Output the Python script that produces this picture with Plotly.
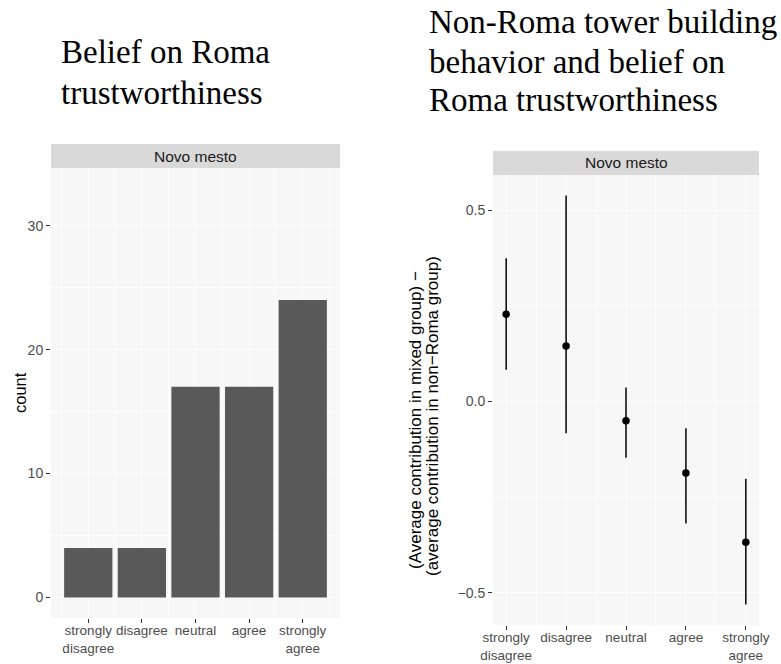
import plotly.graph_objects as go

# Likert response levels (shared by both panels)
levels = ["strongly<br>disagree", "disagree", "neutral", "agree", "strongly<br>agree"]
level_pos = [1, 2, 3, 4, 5]

# Left panel: number of respondents per belief level
counts = [4, 4, 17, 17, 24]

# Right panel: mean difference in contributions with 95% interval
diff_mean = [0.228, 0.145, -0.050, -0.187, -0.368]
ci_low = [0.083, -0.083, -0.147, -0.319, -0.531]
ci_high = [0.375, 0.539, 0.037, -0.070, -0.202]
ref_value = 0.0

facet_label = "Novo mesto"
left_title = ["Belief on Roma", "trustworthiness"]
right_title = ["Non-Roma tower building", "behavior and belief on", "Roma trustworthiness"]
left_ylabel = "count"
right_ylabel = ["(Average contribution in mixed group) \u2212",
                "(average contribution in non\u2212Roma group)"]

W, H = 781, 664
SANS = "Liberation Sans, Arial, Helvetica, sans-serif"
SERIF = "Liberation Serif, Times New Roman, serif"
PANEL_BG = "#F7F7F7"
STRIP_BG = "#D9D9D9"
TICK_COL = "#4D4D4D"


def px_x(v):
    return v / W


def px_y(v):
    return 1 - v / H


# panel boxes in pixels: (left, right, top, bottom), strip height
left_box = (51, 340, 168, 618)
right_box = (493, 759, 175, 625)
strip_h = 24

fig = go.Figure()

fig.add_trace(go.Bar(
    x=level_pos, y=counts, width=0.9,
    marker=dict(color="#595959", line=dict(width=0)),
    xaxis="x", yaxis="y", showlegend=False,
))

err_up = [h - m for h, m in zip(ci_high, diff_mean)]
err_dn = [m - l for m, l in zip(diff_mean, ci_low)]
fig.add_trace(go.Scatter(
    x=level_pos, y=diff_mean, mode="markers",
    marker=dict(color="black", size=7.5),
    error_y=dict(type="data", symmetric=False, array=err_up, arrayminus=err_dn,
                 width=0, thickness=1.5, color="black"),
    xaxis="x2", yaxis="y2", showlegend=False,
))

axis_common = dict(
    automargin=False,
    showline=False, zeroline=False, ticks="outside", ticklen=4, tickwidth=1,
    tickcolor="#333333",
    showgrid=True, gridcolor="white", gridwidth=1.2,
)
xtick_font = dict(family=SANS, size=13.5, color=TICK_COL)
ytick_font = dict(family=SANS, size=14, color=TICK_COL)

fig.update_layout(
    width=W, height=H,
    margin=dict(l=0, r=0, t=0, b=0),
    paper_bgcolor="white", plot_bgcolor=PANEL_BG,
    xaxis=dict(
        domain=[px_x(left_box[0]), px_x(left_box[1])], anchor="y",
        range=[0.305, 5.695], tickmode="array", tickvals=level_pos, ticktext=levels,
        tickangle=0, tickfont=xtick_font, ticklabelstandoff=-4,
        minor=dict(tickmode="array", tickvals=[0.5, 1.5, 2.5, 3.5, 4.5, 5.5],
                   showgrid=True, gridcolor="white", gridwidth=0.6, ticklen=0),
        **axis_common,
    ),
    yaxis=dict(
        domain=[px_y(left_box[3]), px_y(left_box[2])], anchor="x",
        range=[-1.65, 34.65], tickmode="array", tickvals=[0, 10, 20, 30],
        tickfont=ytick_font,
        minor=dict(tickmode="array", tickvals=[5, 15, 25],
                   showgrid=True, gridcolor="white", gridwidth=0.6, ticklen=0),
        **axis_common,
    ),
    xaxis2=dict(
        domain=[px_x(right_box[0]), px_x(right_box[1])], anchor="y2",
        range=[0.78, 5.22], tickmode="array", tickvals=level_pos, ticktext=levels,
        tickangle=0, tickfont=xtick_font, ticklabelstandoff=-4,
        minor=dict(tickmode="array", tickvals=[1.5, 2.5, 3.5, 4.5],
                   showgrid=True, gridcolor="white", gridwidth=0.6, ticklen=0),
        **axis_common,
    ),
    yaxis2=dict(
        domain=[px_y(right_box[3]), px_y(right_box[2])], anchor="x2",
        range=[-0.5845, 0.5925], tickmode="array", tickvals=[-0.5, 0, 0.5],
        ticktext=["\u22120.5", "0.0", "0.5"], tickfont=ytick_font,
        minor=dict(tickmode="array", tickvals=[-0.25, 0.25],
                   showgrid=True, gridcolor="white", gridwidth=0.6, ticklen=0),
        **axis_common,
    ),
)

# reference line at zero difference
fig.add_shape(type="line", xref="x2 domain", yref="y2", x0=0, x1=1,
              y0=ref_value, y1=ref_value, line=dict(color="#6E6E6E", width=1.1),
              layer="below")

# facet strips
for box in (left_box, right_box):
    fig.add_shape(type="rect", xref="paper", yref="paper",
                  x0=px_x(box[0]), x1=px_x(box[1]),
                  y0=px_y(box[2]), y1=px_y(box[2] - strip_h),
                  fillcolor=STRIP_BG, line=dict(width=0), layer="below")
    fig.add_annotation(xref="paper", yref="paper",
                       x=px_x((box[0] + box[1]) / 2), y=px_y(box[2] - strip_h / 2),
                       text=facet_label, showarrow=False,
                       font=dict(family=SANS, size=15.5, color="#1A1A1A"),
                       xanchor="center", yanchor="middle")

# y-axis labels
fig.add_annotation(xref="paper", yref="paper", x=px_x(20), y=px_y(393),
                   text=left_ylabel, textangle=-90, showarrow=False,
                   font=dict(family=SANS, size=16.5, color="black"),
                   xanchor="center", yanchor="middle")
for line, cx, cy in zip(right_ylabel, (415, 432), (420, 416)):
    fig.add_annotation(xref="paper", yref="paper", x=px_x(cx), y=px_y(cy),
                       text=line, textangle=-90, showarrow=False,
                       font=dict(family=SANS, size=17, color="black"),
                       xanchor="center", yanchor="middle")

# panel titles
for i, line in enumerate(left_title):
    fig.add_annotation(xref="paper", yref="paper", x=px_x(59), y=px_y([52, 93][i]),
                       text=line, showarrow=False, xanchor="left", yanchor="middle",
                       align="left", font=dict(family=SERIF, size=33, color="black"))
for i, line in enumerate(right_title):
    fig.add_annotation(xref="paper", yref="paper", x=px_x(427), y=px_y([22, 62, 100][i]),
                       text=line, showarrow=False, xanchor="left", yanchor="middle",
                       align="left", font=dict(family=SERIF, size=33, color="black"))

fig.write_html("out.html")
